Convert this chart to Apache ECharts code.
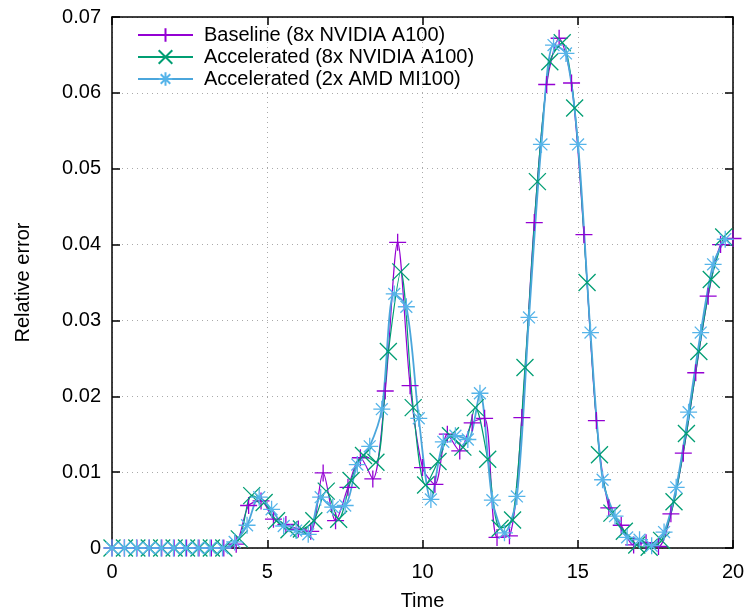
<!DOCTYPE html>
<html>
<head>
<meta charset="utf-8">
<script src="https://cdn.jsdelivr.net/npm/echarts@6/dist/echarts.min.js"></script>
<style>
  html, body { margin: 0; padding: 0; background: #fff; }
  #chart { width: 750px; height: 616px; }
</style>
</head>
<body>
<div id="chart"></div>
<script>
// marker times and relative errors per run
const baselineT = [0, 0.4, 0.8, 1.2, 1.6, 2.0, 2.4, 2.8, 3.2, 3.6, 4.0, 4.4, 4.8, 5.2, 5.6, 6.0, 6.4, 6.8, 7.2, 7.6,
  8.0, 8.4, 8.8, 9.2, 9.6, 10.0, 10.4, 10.8, 11.2, 11.6, 12.0, 12.4, 12.8, 13.2, 13.6, 14.0, 14.4, 14.8, 15.2, 15.6,
  16.0, 16.4, 16.8, 17.2, 17.6, 18.0, 18.4, 18.8, 19.2, 19.6, 20.0];
const baselineY = [0, 0, 0, 0, 0, 0, 0, 0, 0, 0, 0.0005, 0.0056, 0.0062, 0.0038, 0.0031, 0.0025, 0.0022, 0.0099, 0.0036, 0.0080,
  0.0119, 0.0091, 0.0207, 0.0403, 0.0214, 0.0106, 0.0084, 0.0150, 0.0128, 0.0165, 0.0171, 0.0014, 0.0016, 0.0172, 0.0429, 0.0611, 0.0672, 0.0613, 0.0413, 0.0168,
  0.0053, 0.0030, 0.0004, 0.0007, 0.0002, 0.0045, 0.0125, 0.0231, 0.0332, 0.0400, 0.0408];

const accNvT = [0, 0.4, 0.8, 1.2, 1.6, 2.0, 2.4, 2.8, 3.2, 3.6, 4.1, 4.5, 4.9, 5.3, 5.7, 6.1, 6.5, 6.9, 7.3, 7.7,
  8.1, 8.5, 8.9, 9.3, 9.7, 10.1, 10.5, 10.9, 11.3, 11.7, 12.1, 12.5, 12.9, 13.3, 13.7, 14.1, 14.5, 14.9, 15.3, 15.7,
  16.1, 16.5, 16.9, 17.3, 17.7, 18.1, 18.5, 18.9, 19.3, 19.7];
const accNvY = [0, 0, 0, 0, 0, 0, 0, 0, 0, 0, 0.0012, 0.0069, 0.0060, 0.0036, 0.0024, 0.0025, 0.0036, 0.0075, 0.0038, 0.0089,
  0.0122, 0.0113, 0.0259, 0.0364, 0.0185, 0.0083, 0.0114, 0.0148, 0.0133, 0.0185, 0.0117, 0.0026, 0.0037, 0.0238, 0.0483, 0.0641, 0.0666, 0.0580, 0.0350, 0.0123,
  0.0046, 0.0022, 0.0004, 0.0001, 0.0010, 0.0061, 0.0151, 0.0259, 0.0354, 0.0410];

const accAmdT = [0, 0.4, 0.79, 1.19, 1.58, 1.98, 2.37, 2.77, 3.16, 3.56, 3.95, 4.35, 4.74, 5.14, 5.53, 5.93, 6.32, 6.72, 7.11, 7.51,
  7.9, 8.3, 8.69, 9.09, 9.48, 9.88, 10.27, 10.67, 11.06, 11.46, 11.85, 12.25, 12.64, 13.04, 13.43, 13.83, 14.22, 14.62, 15.01, 15.41,
  15.8, 16.2, 16.59, 16.99, 17.38, 17.78, 18.17, 18.57, 18.96, 19.36, 19.75];
const accAmdY = [0, 0, 0, 0, 0, 0, 0, 0, 0, 0, 0.0008, 0.0030, 0.0067, 0.0051, 0.0029, 0.0023, 0.0018, 0.0067, 0.0054, 0.0056,
  0.0110, 0.0134, 0.0183, 0.0335, 0.0318, 0.0171, 0.0064, 0.0140, 0.0148, 0.0143, 0.0204, 0.0063, 0.0020, 0.0068, 0.0304, 0.0532, 0.0663, 0.0652, 0.0532, 0.0284,
  0.0090, 0.0042, 0.0014, 0.0011, 0.0003, 0.0021, 0.0080, 0.0179, 0.0284, 0.0374, 0.0407];

const names = ['Baseline (8x NVIDIA A100)', 'Accelerated (8x NVIDIA A100)', 'Accelerated (2x AMD MI100)'];
const colors = ['#9400d3', '#009e73', '#56b4e9'];
const lineColors = ['#9400d3', '#009e73', '#4ba6dc'];
const lineWidths = [1.2, 1.2, 1.8];

// gnuplot point types: + , x , *
const symPlus = 'path://M5,0L5,10M0,5L10,5';
const symCross = 'path://M0,0L10,10M10,0L0,10';
const symStar = 'path://M5,0L5,10M0,5L10,5M1.5,1.5L8.5,8.5M8.5,1.5L1.5,8.5';

const font = 'Liberation Sans, Arial, Helvetica, sans-serif';

function pairs(ts, ys) {
  return ts.map((t, i) => [t, ys[i]]);
}

function mkSeries(i, data, symbol) {
  return {
    name: names[i],
    type: 'line',
    data: data,
    symbol: symbol,
    symbolSize: 17,
    showAllSymbol: true,
    smooth: 0.3,
    animation: false,
    lineStyle: { color: lineColors[i], width: lineWidths[i] },
    itemStyle: { color: colors[i], borderColor: colors[i], borderWidth: 1.3 }
  };
}

const chart = echarts.init(document.getElementById('chart'));

const option = {
  animation: false,
  grid: { left: 112, right: 17, top: 17, bottom: 67, containLabel: false },
  legend: {
    orient: 'vertical',
    left: 137,
    top: 24,
    padding: 0,
    itemWidth: 55,
    itemHeight: 17,
    itemGap: 0,
    textStyle: { fontSize: 20, fontFamily: font, color: '#000', lineHeight: 22, padding: [0, 0, 0, 6] },
    data: names
  },
  xAxis: [
    {
      type: 'value', min: 0, max: 20, interval: 5, position: 'bottom',
      name: 'Time', nameLocation: 'middle', nameGap: 43,
      nameTextStyle: { fontSize: 20, fontFamily: font, color: '#000' },
      axisLine: { show: true, onZero: false, lineStyle: { color: '#000', width: 1.5 } },
      axisTick: { show: true, inside: true, length: 8, lineStyle: { color: '#000', width: 1.5 } },
      axisLabel: { color: '#000', fontSize: 20, fontFamily: font, margin: 14 },
      splitLine: { show: true, lineStyle: { color: '#aaa', width: 1, type: [1, 4] } }
    },
    {
      type: 'value', min: 0, max: 20, interval: 5, position: 'top',
      axisLine: { show: true, onZero: false, lineStyle: { color: '#000', width: 1.5 } },
      axisTick: { show: true, inside: true, length: 8, lineStyle: { color: '#000', width: 1.5 } },
      axisLabel: { show: false },
      splitLine: { show: false }
    }
  ],
  yAxis: [
    {
      type: 'value', min: 0, max: 0.07, interval: 0.01, position: 'left',
      name: 'Relative error', nameLocation: 'middle', nameGap: 79,
      nameTextStyle: { fontSize: 20, fontFamily: font, color: '#000' },
      axisLine: { show: true, onZero: false, lineStyle: { color: '#000', width: 1.5 } },
      axisTick: { show: true, inside: true, length: 8, lineStyle: { color: '#000', width: 1.5 } },
      axisLabel: {
        color: '#000', fontSize: 20, fontFamily: font, margin: 11,
        formatter: v => (v === 0 ? '0' : v.toFixed(2))
      },
      splitLine: { show: true, lineStyle: { color: '#aaa', width: 1, type: [1, 4] } }
    },
    {
      type: 'value', min: 0, max: 0.07, interval: 0.01, position: 'right',
      axisLine: { show: true, onZero: false, lineStyle: { color: '#000', width: 1.5 } },
      axisTick: { show: true, inside: true, length: 8, lineStyle: { color: '#000', width: 1.5 } },
      axisLabel: { show: false },
      splitLine: { show: false }
    }
  ],
  series: [
    mkSeries(0, pairs(baselineT, baselineY), symPlus),
    mkSeries(1, pairs(accNvT, accNvY), symCross),
    mkSeries(2, pairs(accAmdT, accAmdY), symStar)
  ]
};

chart.setOption(option);
</script>
</body>
</html>
